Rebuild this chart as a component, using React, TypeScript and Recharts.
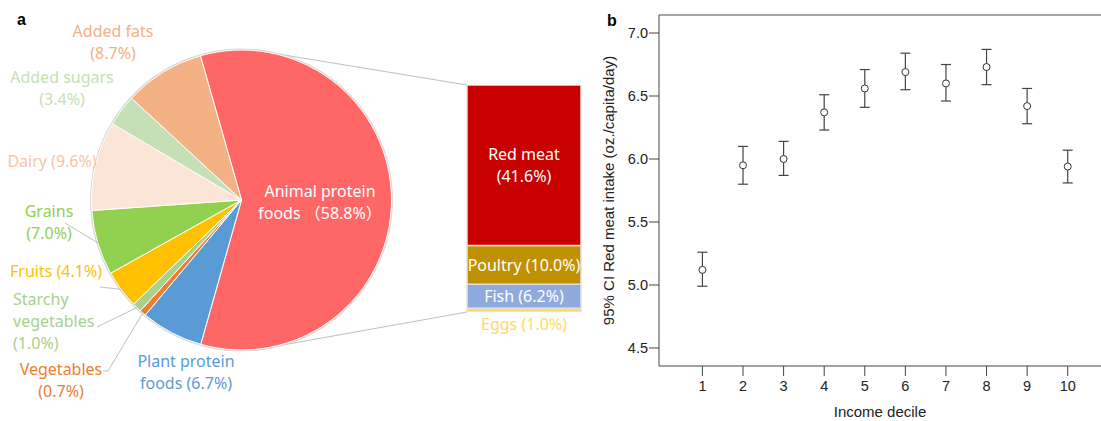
import React from 'react'
import {
  PieChart, Pie, Cell, BarChart, Bar, XAxis, YAxis,
  ScatterChart, Scatter, ErrorBar, ReferenceLine,
} from 'recharts'

// panel a: share of food groups in the diet
const foodGroups = ['Animal protein foods', 'Plant protein foods', 'Vegetables', 'Starchy vegetables', 'Fruits', 'Grains', 'Dairy', 'Added sugars', 'Added fats']
const foodShares = [58.8, 6.7, 0.7, 1.0, 4.1, 7.0, 9.6, 3.4, 8.7]
const foodColors = ['#FF6666', '#5B9BD5', '#ED7D31', '#A9D18E', '#FFC000', '#92D050', '#FBE5D6', '#C5E0B4', '#F4B183']
const foodLabels = [
  ['Animal protein', 'foods （58.8%）'],
  ['Plant protein', 'foods (6.7%)'],
  ['Vegetables', '(0.7%)'],
  ['Starchy', 'vegetables', '(1.0%)'],
  ['Fruits (4.1%)'],
  ['Grains', '(7.0%)'],
  ['Dairy (9.6%)'],
  ['Added sugars', '(3.4%)'],
  ['Added fats', '(8.7%)'],
]

// breakdown of animal protein foods (bottom to top)
const animalGroups = ['Eggs', 'Fish', 'Poultry', 'Red meat']
const animalShares = [1.0, 6.2, 10.0, 41.6]
const animalColors = ['#FFD966', '#8EA9DB', '#BF9000', '#C80000']

// panel b: red meat intake by income decile
const deciles = [1, 2, 3, 4, 5, 6, 7, 8, 9, 10]
const meatMean = [5.12, 5.95, 6.00, 6.37, 6.56, 6.69, 6.60, 6.73, 6.42, 5.94]
const ciLow = [4.99, 5.80, 5.87, 6.23, 6.41, 6.55, 6.46, 6.59, 6.28, 5.81]
const ciHigh = [5.26, 6.10, 6.14, 6.51, 6.71, 6.84, 6.75, 6.87, 6.56, 6.07]
const yTicks = [4.5, 5.0, 5.5, 6.0, 6.5, 7.0]

const RAD = Math.PI / 180
const PIE_CX = 241.5
const PIE_CY = 200
const PIE_R = 150
const BAR_LEFT = 467
const BAR_RIGHT = 9
const BAR_TOP = 85
const BAR_BOTTOM = 109
const sansA = "'Noto Sans', 'Noto Sans CJK SC', sans-serif"
const sansB = "Arial, 'Liberation Sans', sans-serif"

// where each pie label sits (centre of first line) and optional leader line start
const labelLayout: { x: number; y: number; anchor: 'start' | 'middle'; color: string; leader?: number[][] }[] = [
  { x: 320, y: 191, anchor: 'middle', color: '#ffffff' },
  { x: 186, y: 361, anchor: 'middle', color: '#5B9BD5' },
  { x: 61, y: 369, anchor: 'middle', color: '#ED7D31', leader: [[103, 371], [108, 371]] },
  { x: 13, y: 299, anchor: 'start', color: '#A9D18E', leader: [[97, 327]] },
  { x: 10, y: 271, anchor: 'start', color: '#FFC000', leader: [[100, 287]] },
  { x: 49, y: 211, anchor: 'middle', color: '#92D050', leader: [[65, 223]] },
  { x: 52, y: 161, anchor: 'middle', color: '#F6C5A4' },
  { x: 62, y: 77, anchor: 'middle', color: '#C5E0B4' },
  { x: 113, y: 31, anchor: 'middle', color: '#F4B183' },
]

const renderPieLabel = (props: any) => {
  const { cx, cy, midAngle, outerRadius, index } = props
  const lay = labelLayout[index]
  const ex = cx + outerRadius * Math.cos(-midAngle * RAD)
  const ey = cy + outerRadius * Math.sin(-midAngle * RAD)
  return (
    <g key={`pl-${index}`}>
      {lay.leader && (
        <polyline
          points={[...lay.leader, [ex, ey]].map(p => p.join(',')).join(' ')}
          fill="none"
          stroke="#BFBFBF"
          strokeWidth={1}
        />
      )}
      <text textAnchor={lay.anchor} fill={lay.color} fontSize={16} fontFamily={sansA}>
        {foodLabels[index].map((t, i) => (
          <tspan key={i} x={lay.x} y={lay.y + i * 22 + 6}>{t}</tspan>
        ))}
      </text>
    </g>
  )
}

const barLabel = (i: number) => (p: any) => {
  const { x, y, width, height } = p
  const cx = x + width / 2
  const name = animalGroups[i]
  const pct = `(${animalShares[i].toFixed(1)}%)`
  if (name === 'Eggs') {
    return (
      <text x={cx} y={y + height + 18} textAnchor="middle" fill="#FFD966" fontSize={16} fontFamily={sansA}>
        {`${name} ${pct}`}
      </text>
    )
  }
  if (name === 'Red meat') {
    return (
      <text textAnchor="middle" fill="#fff" fontSize={16} fontFamily={sansA}>
        <tspan x={cx} y={y + height / 2 - 11 + 6}>{name}</tspan>
        <tspan x={cx} y={y + height / 2 + 11 + 6}>{pct}</tspan>
      </text>
    )
  }
  return (
    <text x={cx} y={y + height / 2 + 6} textAnchor="middle" fill="#fff" fontSize={16} fontFamily={sansA}>
      {`${name} ${pct}`}
    </text>
  )
}

const pieData = foodGroups.map((name, i) => ({ name, value: foodShares[i] }))
const stackRow: Record<string, any> = { name: 'Animal protein foods' }
animalGroups.forEach((g, i) => { stackRow[g] = animalShares[i] })
const stackTotal = animalShares.reduce((a, b) => a + b, 0)

const scatterData = deciles.map((d, i) => ({
  decile: d,
  mean: meatMean[i],
  err: [meatMean[i] - ciLow[i], ciHigh[i] - meatMean[i]],
}))

// tangent point on the pie circle seen from a bar corner
const tangent = (px: number, py: number, side: 1 | -1) => {
  const dx = px - PIE_CX
  const dy = py - PIE_CY
  const d = Math.sqrt(dx * dx + dy * dy)
  const a = Math.atan2(dy, dx) + side * Math.acos(PIE_R / d)
  return [PIE_CX + PIE_R * Math.cos(a), PIE_CY + PIE_R * Math.sin(a)]
}

const App: React.FC = () => {
  const barTopY = BAR_TOP
  const barBottomY = 421 - BAR_BOTTOM
  const t1 = tangent(BAR_LEFT, barTopY, -1)
  const t2 = tangent(BAR_LEFT, barBottomY, 1)

  return (
    <div style={{ position: 'absolute', left: 0, top: 0, width: 1101, height: 421, background: '#fff', overflow: 'hidden' }}>
      <div style={{ position: 'absolute', left: 0, top: 0 }}>
        <BarChart
          width={590}
          height={421}
          data={[stackRow]}
          margin={{ top: BAR_TOP, right: BAR_RIGHT, bottom: BAR_BOTTOM, left: BAR_LEFT }}
          barCategoryGap={0}
        >
          <XAxis dataKey="name" hide />
          <YAxis hide type="number" domain={[0, stackTotal]} allowDataOverflow />
          {animalGroups.map((g, i) => (
            <Bar
              key={g}
              dataKey={g}
              stackId="animal"
              fill={animalColors[i]}
              stroke="#E3E3E3"
              strokeWidth={1.5}
              isAnimationActive={false}
              label={barLabel(i)}
            />
          ))}
        </BarChart>
      </div>
      <svg width={1101} height={421} style={{ position: 'absolute', left: 0, top: 0, pointerEvents: 'none' }}>
        <line x1={t1[0]} y1={t1[1]} x2={BAR_LEFT} y2={barTopY} stroke="#BFBFBF" strokeWidth={1} />
        <line x1={t2[0]} y1={t2[1]} x2={BAR_LEFT} y2={barBottomY} stroke="#BFBFBF" strokeWidth={1} />
      </svg>
      <div style={{ position: 'absolute', left: 0, top: 0 }}>
        <PieChart width={470} height={421} margin={{ top: 0, right: 0, bottom: 0, left: 0 }}>
          <Pie
            data={[{ name: 'outline', value: 1 }]}
            dataKey="value"
            cx={PIE_CX}
            cy={PIE_CY}
            outerRadius={PIE_R + 1.5}
            fill="#D6D6D6"
            stroke="none"
            isAnimationActive={false}
          />
          <Pie
            data={pieData}
            dataKey="value"
            nameKey="name"
            cx={PIE_CX}
            cy={PIE_CY}
            outerRadius={PIE_R}
            startAngle={105.9}
            endAngle={-254.1}
            stroke="#ffffff"
            strokeWidth={1}
            label={renderPieLabel}
            labelLine={false}
            isAnimationActive={false}
          >
            {pieData.map((d, i) => (
              <Cell key={d.name} fill={foodColors[i]} />
            ))}
          </Pie>
        </PieChart>
      </div>
      <div style={{ position: 'absolute', left: 590, top: 0 }}>
        <ScatterChart width={511} height={421} margin={{ top: 15, right: 0, bottom: 0, left: 0 }}>
          <XAxis
            type="number"
            dataKey="decile"
            domain={[-0.07, 10.82]}
            ticks={deciles}
            allowDataOverflow
            height={55}
            tickSize={10}
            tickMargin={5}
            axisLine={{ stroke: '#444' }}
            tickLine={{ stroke: '#444' }}
            tick={{ fill: '#222', fontSize: 14.5, fontFamily: sansB }}
            label={{ value: 'Income decile', position: 'insideBottom', offset: 4, fill: '#222', fontSize: 15, fontFamily: sansB }}
          />
          <YAxis
            type="number"
            dataKey="mean"
            domain={[4.357, 7.143]}
            ticks={yTicks}
            allowDataOverflow
            width={69}
            tickSize={10}
            tickMargin={1}
            tickFormatter={(v: number) => v.toFixed(1)}
            axisLine={{ stroke: '#444' }}
            tickLine={{ stroke: '#444' }}
            tick={{ fill: '#222', fontSize: 14.5, fontFamily: sansB }}
            label={{
              value: '95% CI Red meat intake (oz./capita/day)',
              angle: -90,
              position: 'insideLeft',
              offset: 19,
              fill: '#222',
              fontSize: 15,
              fontFamily: sansB,
              style: { textAnchor: 'middle' },
            }}
          />
          <ReferenceLine y={7.143} stroke="#888" strokeWidth={1.5} />
          <Scatter
            data={scatterData}
            isAnimationActive={false}
            shape={(p: any) => <circle cx={p.cx} cy={p.cy} r={3.5} fill="#fff" stroke="#333" strokeWidth={1} />}
          >
            <ErrorBar dataKey="err" direction="y" width={5} stroke="#444" strokeWidth={1.2} />
          </Scatter>
        </ScatterChart>
      </div>
      <svg width={1101} height={421} style={{ position: 'absolute', left: 0, top: 0, pointerEvents: 'none' }}>
        <text x={17} y={25} fontSize={16} fontWeight="bold" fontFamily={sansB} fill="#000">a</text>
        <text x={607} y={26} fontSize={16} fontWeight="bold" fontFamily={sansB} fill="#000">b</text>
      </svg>
    </div>
  )
}

export default App
